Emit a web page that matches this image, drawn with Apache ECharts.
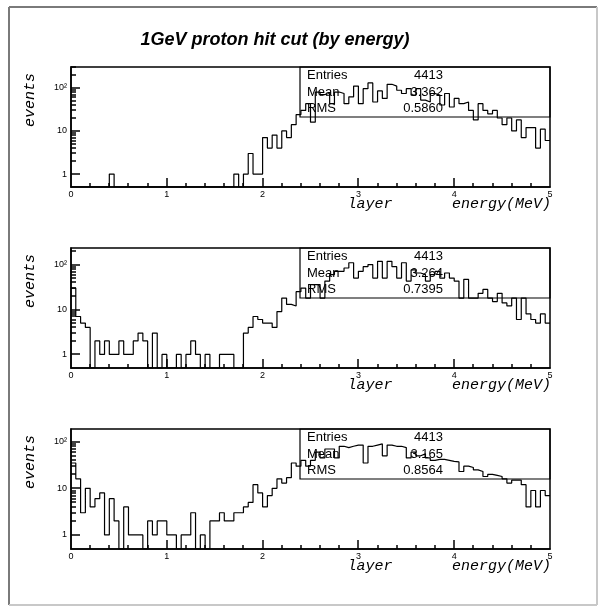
<!DOCTYPE html>
<html><head><meta charset="utf-8">
<script src="https://cdn.jsdelivr.net/npm/echarts@6/dist/echarts.min.js"></script>
<style>html,body{margin:0;padding:0;background:#fff}#c{width:602px;height:610px}</style>
</head><body><div id="c"></div><script>
const chartTitle = '1GeV proton hit cut (by energy)';
const xMin = 0, xMax = 5, binWidth = 0.05;
const xTickLabels = ['0', '1', '2', '3', '4', '5'];
const xMajorTickValues = [1, 2, 3, 4];
const xMinorTickValues = [0.2,0.4,0.6,0.8, 1.2,1.4,1.6,1.8, 2.2,2.4,2.6,2.8, 3.2,3.4,3.6,3.8, 4.2,4.4,4.6,4.8];
const yTickLabels = {'1': '1', '10': '10', '100': '10\u00b2'};
const yMajorTickValues = [1, 10, 100];
const yMin = 0.5;
const yMaxes = [305, 234, 188];
const yMinorTickValues = [2, 3, 4, 5, 6, 7, 8, 9, 20, 30, 40, 50, 60, 70, 80, 90, 200, 300];
const xAxisNames = ['layer', 'energy(MeV)'];
const yAxisName = 'events';

const counts1 = [0,0,0,0,0,0,0,0,1,0, 0,0,0,0,0,0,0,0,0,0, 0,0,0,0,0,0,0,0,0,0, 0,0,0,0,1,0,1,3,1,1,
  7,4,8,4,10,7,14,24,30,43, 16,80,70,74,43,80,74,43,62,110, 43,96,130,47,85,57,121,110,88,74,
  96,68,96,52,47,74,68,40,74,36, 57,43,47,30,18,43,30,25,30,20, 14,20,10,18,7,12,12,4,11,6];
const counts2 = [30,7,5,4,0,2,1,2,1,1, 2,1,1,2,3,2,0,3,0,1, 0,0,1,0,1,2,1,0,1,0, 0,1,1,1,0,0,3,4,7,6,
  5,5,4,9,18,13,12,25,30,18, 36,36,18,43,60,71,71,84,110,50, 71,90,100,50,118,50,118,90,50,110,
  43,76,65,60,43,60,71,50,65,50, 43,18,47,18,18,23,28,18,15,23, 14,12,18,6,18,8,6,5,8,5];
const counts3 = [35,16,3,10,4,6,8,1,6,2, 0,4,1,1,1,0,2,1,2,2, 1,1,0,1,1,3,0,1,0,2, 2,3,2,2,3,3,4,5,12,8,
  4,7,10,16,13,17,35,30,40,30, 40,60,45,70,70,45,80,75,80,85, 85,35,80,85,90,50,85,80,80,75,
  45,60,50,55,45,40,42,42,40,38, 37,23,30,28,25,23,18,20,19,18, 16,13,15,15,12,4,9,4,9,7];
const panelCounts = [counts1, counts2, counts3];
const statLabels = ['Entries', 'Mean', 'RMS'];
const statEntries = ['4413', '4413', '4413'];
const statMeans = ['3.362', '3.264', '3.165'];
const statRMSs = ['0.5860', '0.7395', '0.8564'];

const gridTops = [67, 248, 429];
const gridLeft = 71, gridW = 479, gridH = 120;
const sans = '"Liberation Sans", Arial, sans-serif';
const mono = '"Liberation Mono", "DejaVu Sans Mono", monospace';

const grids = [], xAxes = [], yAxes = [], series = [], graphics = [];

// outer canvas border
graphics.push({type:'line', shape:{x1:9,y1:7,x2:597,y2:7}, style:{stroke:'#7a7a7a', lineWidth:2}});
graphics.push({type:'line', shape:{x1:9,y1:7,x2:9,y2:605}, style:{stroke:'#7a7a7a', lineWidth:2}});
graphics.push({type:'line', shape:{x1:9,y1:605,x2:597,y2:605}, style:{stroke:'#c8c8c8', lineWidth:2}});
graphics.push({type:'line', shape:{x1:597,y1:7,x2:597,y2:605}, style:{stroke:'#c8c8c8', lineWidth:2}});
graphics.push({type:'text', x:275, y:40, style:{text:chartTitle, font:'bold italic 18px ' + sans, fill:'#000', textAlign:'center', textVerticalAlign:'middle'}});

function tickSeries(p, data, horizontal, len) {
  return {
    type:'custom', xAxisIndex:p, yAxisIndex:p, clip:false, silent:true, z:10, animation:false,
    coordinateSystem:'cartesian2d',
    data:data,
    renderItem:(params, api) => {
      const c = api.coord([api.value(0), api.value(1)]);
      const x = Math.round(c[0]), y = Math.round(c[1]);
      const shape = horizontal ? {x1:x, y1:y, x2:x + len, y2:y} : {x1:x, y1:y, x2:x, y2:y - len};
      return {type:'line', shape:shape, style:{stroke:'#000', lineWidth:1.5}};
    }
  };
}

panelCounts.forEach((counts, p) => {
  const top = gridTops[p];
  grids.push({left:gridLeft, top:top, width:gridW, height:gridH, show:true, borderColor:'#000', borderWidth:1.5, backgroundColor:'transparent'});
  xAxes.push({
    type:'value', gridIndex:p, min:xMin, max:xMax, interval:1,
    axisLine:{show:true, lineStyle:{color:'#000', width:1.5}},
    axisTick:{show:false},
    splitLine:{show:false},
    axisLabel:{color:'#000', fontSize:9, fontFamily:sans, margin:3,
      formatter:(v) => xTickLabels[Math.round(v)] || ''}
  });
  yAxes.push({
    type:'log', logBase:10, gridIndex:p, min:yMin, max:yMaxes[p],
    axisLine:{show:true, lineStyle:{color:'#000', width:1.5}},
    axisTick:{show:false},
    splitLine:{show:false},
    axisLabel:{color:'#000', fontSize:9, fontFamily:sans, margin:4, showMinLabel:false, showMaxLabel:false,
      formatter:(v) => yTickLabels[String(Math.round(v * 1000) / 1000)] || ''}
  });
  const pts = counts.map((c, i) => [xMin + i * binWidth, c > 0 ? c : yMin]);
  pts.push([xMax, counts[counts.length - 1] > 0 ? counts[counts.length - 1] : yMin]);
  series.push({
    type:'line', xAxisIndex:p, yAxisIndex:p, step:'end', data:pts, showSymbol:false, symbol:'none',
    lineStyle:{color:'#000', width:1.2}, silent:true, z:5, animation:false
  });
  series.push(tickSeries(p, yMinorTickValues.filter(v => v < yMaxes[p]).map(v => [xMin, v]), true, 5));
  series.push(tickSeries(p, yMajorTickValues.map(v => [xMin, v]), true, 9));
  series.push(tickSeries(p, xMinorTickValues.map(v => [v, yMin]), false, 4));
  series.push(tickSeries(p, xMajorTickValues.map(v => [v, yMin]), false, 9));
  // axis titles
  graphics.push({type:'text', x:30, y:top + 33, rotation:Math.PI / 2,
    style:{text:yAxisName, font:'italic 15px ' + mono, fill:'#000', textAlign:'center', textVerticalAlign:'middle'}});
  graphics.push({type:'text', x:370, y:top + gridH + 17,
    style:{text:xAxisNames[0], font:'italic 15px ' + mono, fill:'#000', textAlign:'center', textVerticalAlign:'middle'}});
  graphics.push({type:'text', x:551, y:top + gridH + 17,
    style:{text:xAxisNames[1], font:'italic 15px ' + mono, fill:'#000', textAlign:'right', textVerticalAlign:'middle'}});
  // stats box
  graphics.push({type:'rect', shape:{x:300, y:top, width:250, height:50}, style:{fill:'none', stroke:'#000', lineWidth:1.2}, z:1});
  const vals = [statEntries[p], statMeans[p], statRMSs[p]];
  statLabels.forEach((lab, k) => {
    const yy = top + 8.5 + k * 16.5;
    graphics.push({type:'text', x:307, y:yy, z:1, style:{text:lab, font:'13px ' + sans, fill:'#000', textAlign:'left', textVerticalAlign:'middle'}});
    graphics.push({type:'text', x:443, y:yy, z:1, style:{text:vals[k], font:'13px ' + sans, fill:'#000', textAlign:'right', textVerticalAlign:'middle'}});
  });
});

const chart = echarts.init(document.getElementById('c'), null, {renderer:'canvas'});
chart.setOption({
  backgroundColor:'#fff', animation:false,
  grid:grids, xAxis:xAxes, yAxis:yAxes, series:series, graphic:graphics
});
</script></body></html>
